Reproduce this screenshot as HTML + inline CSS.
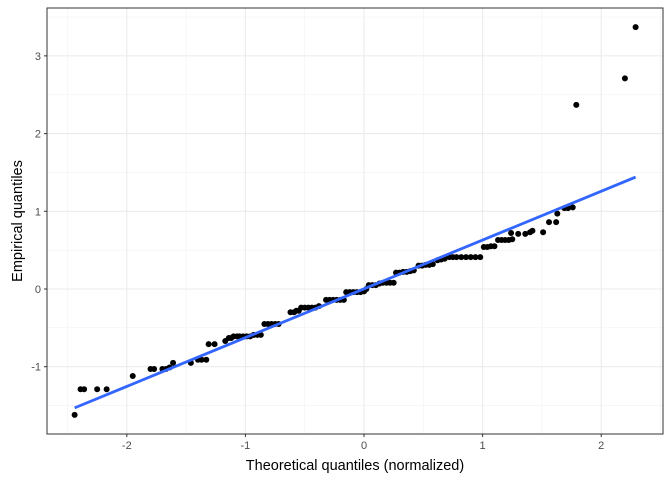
<!DOCTYPE html>
<html><head><meta charset="utf-8"><style>
body{margin:0;background:#fff}
svg{display:block;font-family:"Liberation Sans",Arial,sans-serif}
</style></head><body>
<svg id="chart" width="672" height="480"></svg>
<script>
const sampleX=[-2.44,-2.39,-2.36,-2.25,-2.17,-1.95,-1.80,-1.77,-1.70,-1.67,-1.64,-1.61,-1.46,-1.40,-1.37,-1.33,-1.31,-1.26,-1.17,-1.14,-1.12,-1.10,-1.07,-1.05,-1.02,-0.99,-0.96,-0.93,-0.90,-0.87,-0.84,-0.81,-0.78,-0.75,-0.72,-0.62,-0.59,-0.57,-0.55,-0.53,-0.50,-0.47,-0.44,-0.41,-0.38,-0.32,-0.29,-0.26,-0.23,-0.20,-0.17,-0.15,-0.12,-0.09,-0.06,-0.03,0.00,0.02,0.04,0.07,0.10,0.13,0.16,0.19,0.22,0.25,0.27,0.30,0.33,0.36,0.39,0.42,0.46,0.49,0.52,0.55,0.58,0.62,0.65,0.68,0.72,0.75,0.78,0.82,0.86,0.90,0.94,0.98,1.01,1.04,1.07,1.10,1.13,1.16,1.19,1.22,1.25,1.24,1.30,1.36,1.40,1.42,1.51,1.56,1.62,1.63,1.69,1.72,1.76,1.79,2.20,2.29];
const sampleY=[-1.62,-1.29,-1.29,-1.29,-1.29,-1.12,-1.03,-1.03,-1.03,-1.03,-1.01,-0.95,-0.95,-0.91,-0.91,-0.91,-0.71,-0.71,-0.67,-0.63,-0.63,-0.61,-0.61,-0.61,-0.61,-0.61,-0.61,-0.59,-0.59,-0.59,-0.45,-0.45,-0.45,-0.45,-0.45,-0.30,-0.30,-0.28,-0.28,-0.24,-0.24,-0.24,-0.24,-0.24,-0.22,-0.14,-0.14,-0.14,-0.14,-0.14,-0.14,-0.04,-0.04,-0.04,-0.04,-0.04,-0.03,0.00,0.05,0.05,0.05,0.07,0.08,0.08,0.08,0.08,0.21,0.21,0.22,0.22,0.23,0.24,0.30,0.30,0.31,0.31,0.32,0.37,0.38,0.39,0.41,0.41,0.41,0.41,0.41,0.41,0.41,0.41,0.54,0.54,0.55,0.55,0.63,0.63,0.63,0.63,0.64,0.72,0.71,0.71,0.73,0.75,0.73,0.86,0.86,0.97,1.04,1.04,1.05,2.37,2.71,3.37];
const lineX=[-2.44,2.29];
const lineY=[-1.53,1.44];
const xTicks=[-2,-1,0,1,2];
const yTicks=[-1,0,1,2,3];
const NS='http://www.w3.org/2000/svg';
const svg=document.getElementById('chart');
const L=47,R=663,T=8,B=434;
const X0=-2.673,X1=2.521,Y0=-1.866,Y1=3.616;
const sx=v=>L+(v-X0)/(X1-X0)*(R-L);
const sy=v=>B-(v-Y0)/(Y1-Y0)*(B-T);
function mk(t,a){const e=document.createElementNS(NS,t);for(const k in a)e.setAttribute(k,a[k]);svg.appendChild(e);return e;}
let e=mk('rect',{x:L,y:T,width:R-L,height:B-T,fill:'#fff'});


// minor grid
for(let v=-2.5;v<=2.5;v+=1){e=mk('line',{x1:sx(v),x2:sx(v),y1:T,y2:B,stroke:'#f2f2f2','stroke-width':0.6});

}
for(let v=-1.5;v<=3.5;v+=1){e=mk('line',{x1:L,x2:R,y1:sy(v),y2:sy(v),stroke:'#f2f2f2','stroke-width':0.6});

}
xTicks.forEach(v=>{e=mk('line',{x1:sx(v),x2:sx(v),y1:T,y2:B,stroke:'#ebebeb','stroke-width':1.1});


e=mk('line',{x1:sx(v),x2:sx(v),y1:B,y2:B+3,stroke:'#333','stroke-width':1});


e=mk('text',{x:sx(v),y:B+15,'text-anchor':'middle','font-size':11,fill:'#4d4d4d'});e.textContent=v;

});
yTicks.forEach(v=>{e=mk('line',{x1:L,x2:R,y1:sy(v),y2:sy(v),stroke:'#ebebeb','stroke-width':1.1});


e=mk('line',{x1:L-3,x2:L,y1:sy(v),y2:sy(v),stroke:'#333','stroke-width':1});


e=mk('text',{x:L-6,y:sy(v)+4,'text-anchor':'end','font-size':11,fill:'#4d4d4d'});e.textContent=v;

});
sampleX.forEach((v,i)=>{e=mk('circle',{cx:sx(v),cy:sy(sampleY[i]),r:3,fill:'#000'});

});
e=mk('line',{x1:sx(lineX[0]),y1:sy(lineY[0]),x2:sx(lineX[1]),y2:sy(lineY[1]),stroke:'#3366FF','stroke-width':2.8});


e=mk('rect',{x:L,y:T,width:R-L,height:B-T,fill:'none',stroke:'#333','stroke-width':1});


e=mk('text',{x:(L+R)/2,y:470,'text-anchor':'middle','font-size':14.5,fill:'#000'});e.textContent='Theoretical quantiles (normalized)';


e=mk('text',{x:0,y:0,'text-anchor':'middle','font-size':14.5,fill:'#000',transform:`translate(22,${(T+B)/2}) rotate(-90)`});e.textContent='Empirical quantiles';


</script>
</body></html>
